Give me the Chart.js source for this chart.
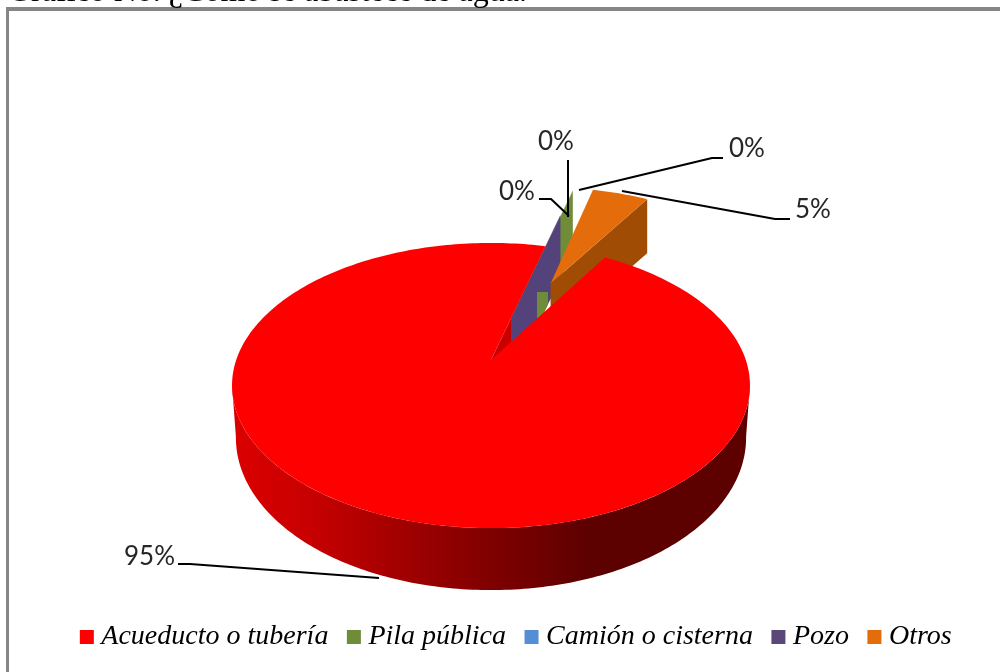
<!DOCTYPE html>
<html><head><meta charset="utf-8">
<style>html,body{margin:0;padding:0;background:#fff;overflow:hidden}canvas{display:block}</style>
<script src="https://cdn.jsdelivr.net/npm/chart.js@4"></script></head>
<body><div style="position:relative;width:1000px;height:672px"><canvas id="c" width="1000" height="672"></canvas></div>
<script>
// Slices in clockwise drawing order, as they appear around the pie
const categories = ['Acueducto o tubería','Pozo','Camión o cisterna','Pila pública','Otros'];
const values = [95.42, 0.03, 0, 0.03, 4.52];
const legendOrder = ['Acueducto o tubería','Pila pública','Camión o cisterna','Pozo','Otros'];
const sliceColors = ['#ff0000','#5a4878','#558ed5','#6f8c38','#e46c0a'];
const wallColors = ['#c80000','#54427a','#3f6fa8','#6f8c38','#a04c05'];
const caption = 'Gráfico No. ¿Cómo se abastece de agua.';

const view = {cx:491, cy:360, a:138, b:254.8, k:0.179, depth:50, frontExtra:12};
const explode = [0, 0.33, 0.4, 0.62, 0.668];
const wallDepth = [50, 62, 0, 62, 54];
const drawOrder = [3,2,1,4];
const leaders = [
 {i:0, tx:124, ty:557, pts:[[178,564],[190,564],[379,578]]},
 {i:1, tx:499, ty:192, pts:[[539,199],[551,199],[569,216]]},
 {i:2, tx:538, ty:142, pts:[[568,160],[568,217]]},
 {i:3, tx:729, ty:149, pts:[[723,158],[712,158],[579,190]]},
 {i:4, tx:795, ty:210, pts:[[790,219],[775,219],[622,191]]}
];
const project = (u,v)=>{const w=1-view.k*v;return [view.cx+view.b*u/w, view.cy+view.a*v/w];};
const dropOf = v=>view.depth+(v>0?view.frontExtra*v:0);
function fillPoly(ctx,pts,style){ctx.beginPath();pts.forEach((p,i)=>i?ctx.lineTo(p[0],p[1]):ctx.moveTo(p[0],p[1]));ctx.closePath();ctx.fillStyle=style;ctx.fill();}

const pie3d = {
 id:'pie3d',
 beforeDraw(chart){
  const ctx=chart.ctx;
  ctx.save();
  ctx.fillStyle='#fff';ctx.fillRect(0,0,1000,672);
  ctx.fillStyle='#868686';ctx.fillRect(6,7,994,4);ctx.fillRect(6,7,3,665);
  ctx.fillStyle='#000';ctx.font='32px "Liberation Serif"';ctx.textBaseline='alphabetic';
  ctx.fillText(caption,8,1);
  ctx.restore();
 },
 beforeDatasetDraw(chart){
  const ctx=chart.ctx, arcs=chart.getDatasetMeta(0).data;
  ctx.save();
  // geometry of every slice comes from the arc elements of the pie controller
  const geo=arcs.map((arc,i)=>{
   const p=arc.getProps(['startAngle','endAngle'],true), mid=(p.startAngle+p.endAngle)/2, e=explode[i];
   const ox=e*Math.cos(mid), oy=e*Math.sin(mid), n=Math.max(2,Math.ceil((p.endAngle-p.startAngle)/0.02));
   const rim=[];
   for(let s=0;s<=n;s++){const t=p.startAngle+(p.endAngle-p.startAngle)*s/n;rim.push([ox+Math.cos(t),oy+Math.sin(t),t]);}
   return {idx:i,start:p.startAngle,end:p.endAngle,ox,oy,rim};
  });
  const down=(u,v)=>{const q=project(u,v);return [q[0],q[1]+dropOf(v)];};
  const red=geo[0];
  const wallOf=(g)=>{const a=g.rim[g.rim.length-1],d=wallDepth[g.idx],p1=project(a[0],a[1]),p2=project(g.ox,g.oy);
   return [p1,p2,[p2[0],p2[1]+d],[p1[0],p1[1]+d]];};
  const topOf=(g)=>[project(g.ox,g.oy)].concat(g.rim.map(r=>project(r[0],r[1])));
  // red cut wall on the far side of the notch
  const last=red.rim[red.rim.length-1];
  fillPoly(ctx,[project(last[0],last[1]),project(0,0),down(0,0),down(last[0],last[1])],wallColors[0]);
  // exploded small slices, back to front
  drawOrder.forEach(i=>{
   const g=geo[i]; if(g.end-g.start<1e-6) return;
   fillPoly(ctx,wallOf(g),wallColors[i]);
   fillPoly(ctx,topOf(g),sliceColors[i]);
   if(i===1){ // lower part of the green wall shows through the purple one
    ctx.save();ctx.beginPath();ctx.rect(537,292,11,26);ctx.clip();
    fillPoly(ctx,wallOf(geo[3]),wallColors[3]);
    ctx.restore();
   }
  });
  // red outer wall along the front half
  const front=[],tA=-Math.PI/2+100*Math.PI/180,tB=-Math.PI/2+260*Math.PI/180;
  for(let s=0;s<=180;s++){const t=tA+(tB-tA)*s/180;front.push([Math.cos(t),Math.sin(t)]);}
  const bottom=front.slice().reverse().map(f=>{const q=down(f[0],f[1]);return [view.cx+(q[0]-view.cx)*0.985,q[1]];});
  const grad=ctx.createLinearGradient(232,0,748,0);
  grad.addColorStop(0,'#dc0000');grad.addColorStop(0.15,'#c80000');grad.addColorStop(0.3,'#a80000');
  grad.addColorStop(0.5,'#800000');grad.addColorStop(0.7,'#5c0000');grad.addColorStop(1,'#5e0000');
  fillPoly(ctx,front.map(f=>project(f[0],f[1])).concat(bottom),grad);
  // red top face
  fillPoly(ctx,topOf(red),sliceColors[0]);
  ctx.restore();
  return false;
 },
 afterDatasetsDraw(chart){
  const ctx=chart.ctx,total=values.reduce((s,v)=>s+v,0);
  ctx.save();
  ctx.strokeStyle='#000';ctx.lineWidth=2;ctx.lineJoin='round';
  ctx.font='26px Lato';ctx.fillStyle='#262626';ctx.textBaseline='middle';ctx.textAlign='left';
  leaders.forEach(l=>{
   ctx.beginPath();l.pts.forEach((p,i)=>i?ctx.lineTo(p[0],p[1]):ctx.moveTo(p[0],p[1]));ctx.stroke();
   ctx.fillText(Math.round(values[l.i]/total*100)+'%',l.tx,l.ty);
  });
  ctx.restore();
 }
};

new Chart(document.getElementById('c'),{
 type:'pie',
 plugins:[pie3d],
 data:{labels:categories,datasets:[{data:values,backgroundColor:sliceColors,borderWidth:0}]},
 options:{
  responsive:false,animation:false,events:[],
  rotation:31,
  layout:{padding:{left:38,bottom:11}},
  plugins:{
   tooltip:{enabled:false},
   title:{display:false},
   legend:{position:'bottom',
    labels:{usePointStyle:true,pointStyle:'rect',boxWidth:1,boxHeight:14,padding:25,color:'#000',
     font:{family:'"Liberation Serif"',size:28,style:'italic'},
     sort:(a,b)=>legendOrder.indexOf(a.text)-legendOrder.indexOf(b.text)}}
  }
 }
});
</script></body></html>
